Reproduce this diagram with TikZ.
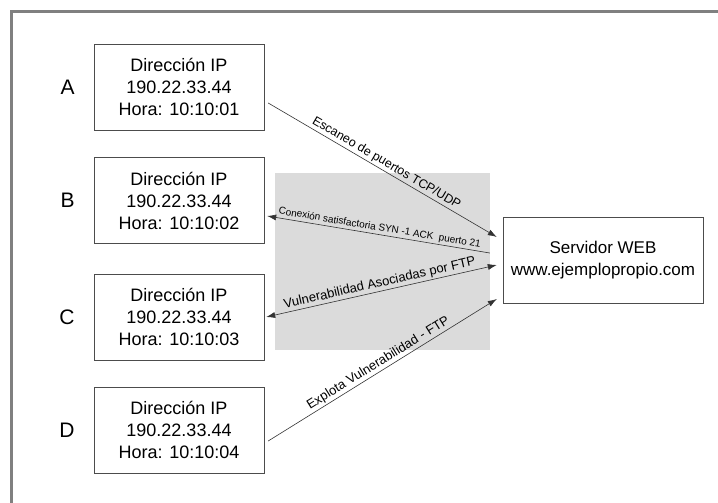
\documentclass[tikz,border=0pt]{standalone}
\usepackage{fontspec}
\setmainfont{Liberation Sans}
\usetikzlibrary{positioning,arrows.meta}
\tikzset{
    ip-box/.style = {draw=black!70, fill=white, thin, rectangle, minimum width=170pt, minimum height=86pt, inner sep=0pt, align=center, font=\fontsize{18}{22}\selectfont},
    web-box/.style = {ip-box, minimum width=200pt, font=\fontsize{17}{22}\selectfont},
    ip-letter/.style = {inner sep=0pt, font=\fontsize{21}{24}\selectfont},
    frame-line/.style = {draw=black!50, line width=3pt},
    zone-fill/.style = {fill=black!14},
    link/.style = {draw=black!80, line width=0.6pt, >={Latex[length=9pt,width=6pt]}},
    arrow-label/.style = {sloped, above, inner sep=1.5pt, font=\fontsize{13}{15}\selectfont},
    small-label/.style = {arrow-label, font=\fontsize{10}{12}\selectfont},
}
\begin{document}
\begin{tikzpicture}[x=1pt,y=-1pt]
\useasboundingbox (0,0) rectangle (718,503);
\draw[frame-line] (11.5,503) -- (11.5,11.5) -- (718,11.5);
\fill[zone-fill] (275,173) rectangle (490,350);

% equipos de origen
\node[ip-box] (hA) at (179,87) {Dirección IP\\190.22.33.44\\Hora: 10:10:01};
\node[ip-box] (hB) at (179,200.5) {Dirección IP\\190.22.33.44\\Hora: 10:10:02};
\node[ip-box] (hC) at (179,317) {Dirección IP\\190.22.33.44\\Hora: 10:10:03};
\node[ip-box] (hD) at (179,430) {Dirección IP\\190.22.33.44\\Hora: 10:10:04};
\node[ip-letter, left=19pt of hA] (lA) {A};
\node[ip-letter, left=19pt of hB] (lB) {B};
\node[ip-letter, left=19pt of hC] (lC) {C};
\node[ip-letter, left=19pt of hD] (lD) {D};

% servidor
\node[web-box] (srv) at (603,260) {Servidor WEB\\www.ejemplopropio.com};

\draw[link, ->] ([xshift=4pt,yshift=-16pt]hA.east) -- node[arrow-label, font=\fontsize{12.5}{15}\selectfont] {Escaneo de puertos TCP/UDP} ([xshift=-6pt,yshift=23pt]srv.west);
\draw[link, <-] ([xshift=3pt,yshift=-15.5pt]hB.east) -- node[small-label] {Conexión satisfactoria SYN -1 ACK\ \ puerto 21} ([xshift=-13pt,yshift=7pt]srv.west);
\draw[link, <->] ([xshift=2pt]hC.east) -- node[arrow-label] {Vulnerabilidad Asociadas por FTP} ([xshift=-6pt,yshift=-5pt]srv.west);
\draw[link, ->] ([xshift=4pt,yshift=-11pt]hD.east) -- node[arrow-label] {Explota Vulnerabilidad - FTP} ([xshift=-6pt,yshift=-39pt]srv.west);
\end{tikzpicture}
\end{document}
